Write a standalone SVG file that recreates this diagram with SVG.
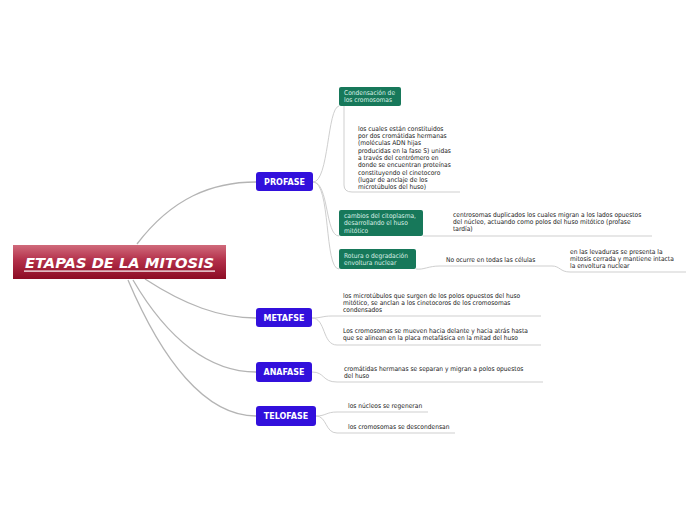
<svg xmlns="http://www.w3.org/2000/svg" width="696" height="520" viewBox="0 0 696 520">
<defs>
<linearGradient id="gRed" x1="0" y1="0" x2="0" y2="1">
<stop offset="0" stop-color="#d06a7b"/>
<stop offset="0.45" stop-color="#b3304a"/>
<stop offset="1" stop-color="#8c0c24"/>
</linearGradient>
</defs>
<style>
.main{fill:none;stroke:#b4b4b4;stroke-width:1.3}
.sub{fill:none;stroke:#cfcfcf;stroke-width:1}
.blue rect{fill:#3210dc}
.blue text{fill:#fff;font-family:"DejaVu Sans",sans-serif;font-weight:bold;font-size:8px;text-anchor:middle}
.green rect{fill:#17785a}
.green text{fill:#d9efe6;font-family:"DejaVu Sans Condensed","DejaVu Sans",sans-serif;font-size:6.6px}
.t{fill:#1a1a1a;font-family:"DejaVu Sans Condensed","DejaVu Sans",sans-serif;font-size:6.6px}
</style>
<rect width="696" height="520" fill="#fff"/>
<g id="connectors">
<path class="main" d="M137,244 C172,198 212,182 256,182"/>
<path class="main" d="M145,279 C185,305 220,318 256,318"/>
<path class="main" d="M133,280 C168,340 210,372 256,372"/>
<path class="main" d="M128,280 C162,360 205,416 256,416"/>
<path class="sub" d="M313,182 C329,182 327,108 339,106"/>
<path class="sub" d="M313,182 C329,182 325,236 339,236"/>
<path class="sub" d="M313,182 C331,182 324,269 339,269"/>
<path class="sub" d="M344,106 L344,185 Q344,192 352,192 L460,192"/>
<path class="sub" d="M423,236 L652,236"/>
<path class="sub" d="M416,269 C424,270 428,266 440,266 L552,266 C560,266 560,272 570,272 L686,272"/>
<path class="sub" d="M312,318 C322,318 322,316 332,316 L541,316"/>
<path class="sub" d="M312,318 C326,318 322,345 337,345 L541,345"/>
<path class="sub" d="M312,372 C325,372 322,382 337,382 L543,382"/>
<path class="sub" d="M316,416 C326,416 326,412 337,412 L428,412"/>
<path class="sub" d="M316,416 C327,416 325,433 337,433 L455,433"/>
</g>
<g id="central">
<rect x="13" y="245" width="213" height="34" fill="url(#gRed)"/>
<text x="119.5" y="268" fill="#fff" font-family="DejaVu Sans, sans-serif" font-weight="bold" font-style="italic" font-size="14.7" text-anchor="middle">ETAPAS DE LA MITOSIS</text>
<rect x="24" y="270.5" width="191" height="1.2" fill="#fff"/>
</g>
<g id="profase" class="blue"><rect x="256" y="172" width="57" height="19" rx="3"/><text x="284.5" y="185">PROFASE</text></g>
<g id="metafse" class="blue"><rect x="256" y="308" width="56" height="19" rx="3"/><text x="284" y="321">METAFSE</text></g>
<g id="anafase" class="blue"><rect x="256" y="362" width="56" height="20" rx="3"/><text x="284" y="375">ANAFASE</text></g>
<g id="telofase" class="blue"><rect x="256" y="406" width="60" height="20" rx="3"/><text x="286" y="419">TELOFASE</text></g>
<g id="condensacion" class="green"><rect x="339" y="87" width="62" height="19" rx="2"/><text x="344" y="94.5">Condensación de</text><text x="344" y="101.5">los cromosomas</text></g>
<g id="cambios" class="green"><rect x="339" y="210" width="84" height="26" rx="2"/><text x="344" y="217.5">cambios del citoplasma,</text><text x="344" y="225">desarrollando el huso</text><text x="344" y="232.5">mitótico</text></g>
<g id="rotura" class="green"><rect x="339" y="249" width="77" height="20" rx="2"/><text x="344" y="257.5">Rotura o degradación</text><text x="344" y="265">envoltura nuclear</text></g>
<g id="cuales" class="t">
<text x="358" y="130.5">los cuales están constituidos</text>
<text x="358" y="137.8">por dos cromátidas hermanas</text>
<text x="358" y="145.2">(moléculas ADN hijas</text>
<text x="358" y="152.5">producidas en la fase S) unidas</text>
<text x="358" y="159.9">a través del centrómero en</text>
<text x="358" y="167.2">donde se encuentran proteínas</text>
<text x="358" y="174.6">constituyendo el cinetocoro</text>
<text x="358" y="181.9">(lugar de anclaje de los</text>
<text x="358" y="189.3">microtúbulos del huso)</text>
</g>
<g id="centrosomas" class="t">
<text x="453" y="217">centrosomas duplicados los cuales migran a los lados opuestos</text>
<text x="453" y="224">del núcleo, actuando como polos del huso mitótico (profase</text>
<text x="453" y="231">tardía)</text>
</g>
<g id="noocurre" class="t"><text x="446" y="261.5">No ocurre en todas las células</text></g>
<g id="levaduras" class="t">
<text x="570" y="254">en las levaduras se presenta la</text>
<text x="570" y="261">mitosis cerrada y mantiene intacta</text>
<text x="570" y="268">la envoltura nuclear</text>
</g>
<g id="microtubulos" class="t">
<text x="343" y="297.5">los microtúbulos que surgen de los polos opuestos del huso</text>
<text x="343" y="304.5">mitótico, se anclan a los cinetocoros de los cromosomas</text>
<text x="343" y="311.5">condensados</text>
</g>
<g id="mueven" class="t">
<text x="343" y="333">Los cromosomas se mueven hacia delante y hacia atrás hasta</text>
<text x="343" y="340">que se alinean en la placa metafásica en la mitad del huso</text>
</g>
<g id="cromatidas" class="t">
<text x="344" y="370.5">cromátidas hermanas se separan y migran a polos opuestos</text>
<text x="344" y="377.5">del huso</text>
</g>
<g id="nucleos" class="t"><text x="348" y="407.5">los núcleos se regeneran</text></g>
<g id="descondensan" class="t"><text x="348" y="428.5">los cromosomas se descondensan</text></g>
</svg>
